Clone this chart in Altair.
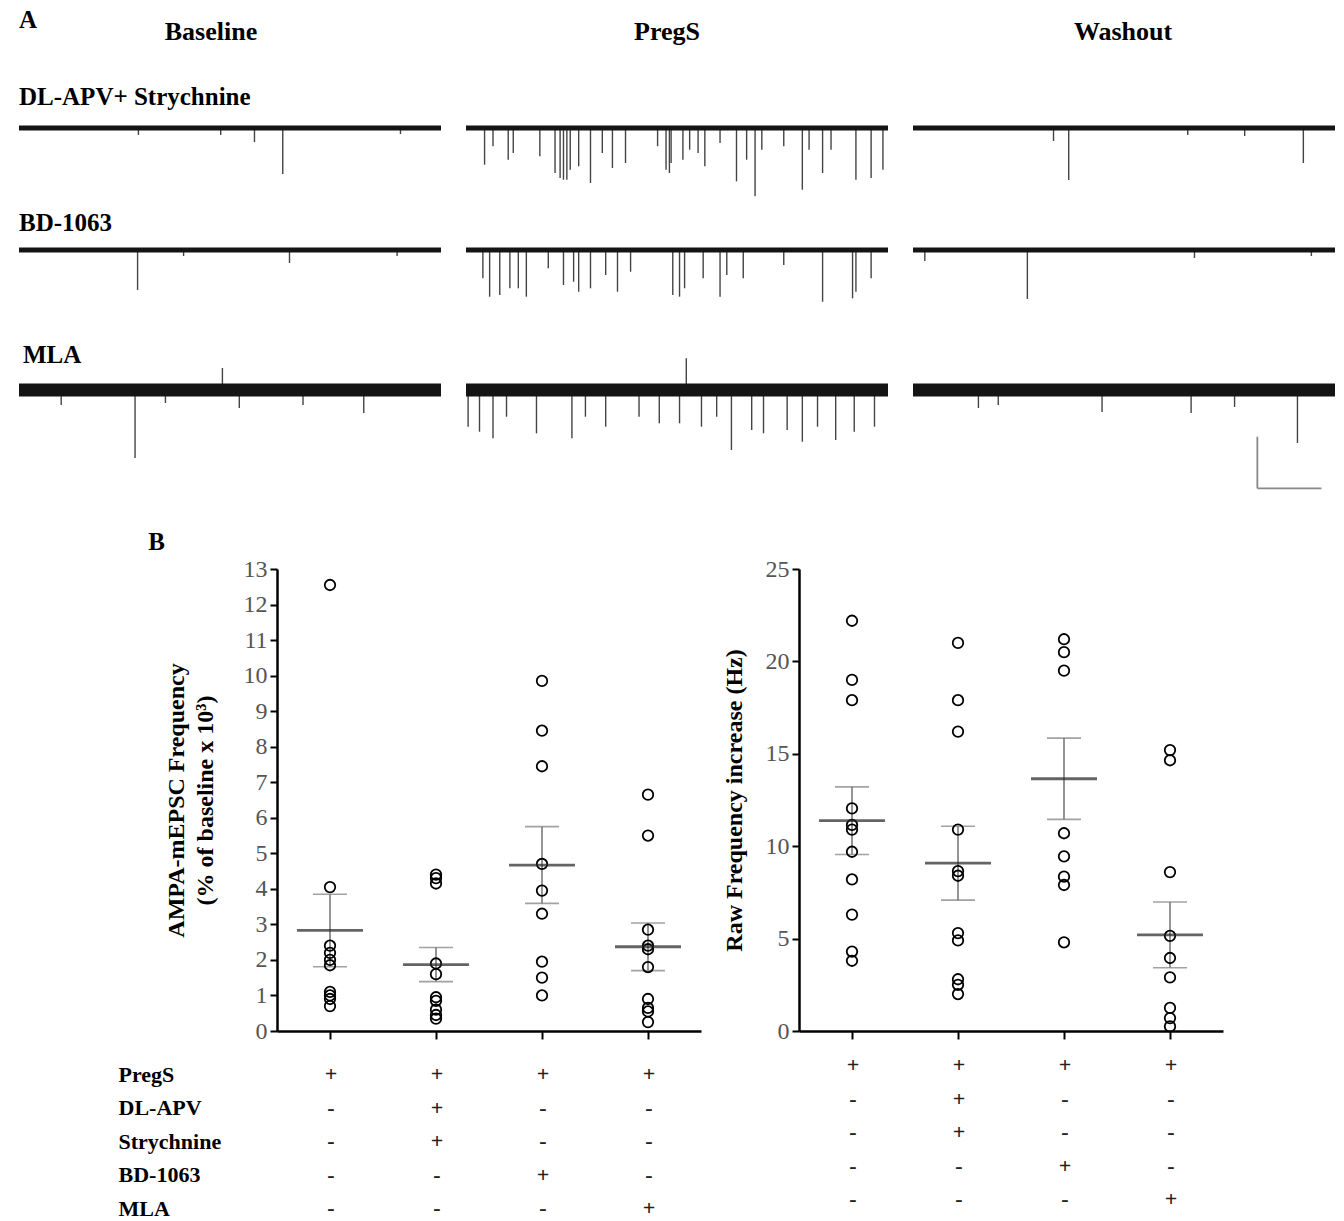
import altair as alt
import pandas as pd

SERIF = "Liberation Serif"

# ---------------- Panel A : representative traces ----------------
PHASES = ["Baseline", "PregS", "Washout"]
ROW_LABELS = ["DL-APV+ Strychnine", "BD-1063", "MLA"]
SWEEP = [0, 100]              # sweep extent (% of displayed time window)
NOISE_PP = [5, 5, 13]         # peak-to-peak noise band of each row's recordings

# event times (% of sweep) and amplitudes (inward = positive, outward = negative)
BASE_R1_T = [28.3, 47.8, 55.8, 62.5, 90.4]
BASE_R1_A = [7, 7, 14, 46, 6]
BASE_R2_T = [28.1, 39.0, 64.1, 89.6]
BASE_R2_A = [40, 6, 13, 6]
BASE_R3_T = [10.0, 27.5, 34.7, 48.2, 52.2, 67.3, 81.7]
BASE_R3_A = [15, 68, 13, -22, 18, 15, 23]

PREGS_R1_T = [4.4, 6.4, 10.0, 11.2, 17.5, 21.1, 22.3, 23.1, 23.9, 24.7, 26.7, 29.5,
              32.3, 34.7, 37.8, 45.4, 47.4, 48.2, 48.6, 51.4, 53.0, 55.0, 56.6, 60.2,
              64.1, 66.5, 68.5, 70.1, 75.3, 79.7, 81.3, 84.5, 86.5, 92.4, 96.0, 98.8]
PREGS_R1_A = [36.7, 18.3, 31.7, 25, 28.3, 45, 50, 51.7, 51.7, 41.7, 38.3, 55,
              25, 40, 35, 18.3, 41.7, 45, 35, 31.7, 21.7, 25, 38.3, 15,
              53.3, 31.7, 68.3, 21.7, 18.3, 61.7, 21.7, 45, 21.7, 51.7, 50, 41.7]
PREGS_R2_T = [4.0, 5.6, 8.0, 10.4, 12.4, 14.3, 19.5, 23.1, 25.5, 26.7, 29.5, 33.1, 35.9,
              39.0, 49.0, 50.6, 51.8, 56.2, 60.2, 61.8, 65.7, 75.3, 84.5, 91.6, 92.4, 96.0]
PREGS_R2_A = [28.3, 46.7, 45, 38.3, 38.3, 46.7, 18.3, 35, 31.7, 41.7, 38.3, 25, 41.7,
              21.7, 45, 46.7, 38.3, 28.3, 46.7, 25, 28.3, 15, 51.7, 48.3, 41.7, 28.3]
PREGS_R3_T = [0.5, 3.2, 6.4, 9.6, 16.7, 25.1, 28.3, 33.1, 41.0, 45.8, 50.6, 52.2, 55.8,
              59.4, 62.9, 67.7, 70.5, 76.1, 79.7, 83.3, 87.6, 92.0, 96.8]
PREGS_R3_A = [36.7, 41.7, 48.3, 26.7, 43.3, 48.3, 26.7, 36.7, 26.7, 33.3, 33.3, -31.7, 36.7,
              26.7, 60, 40, 43.3, 40, 51.7, 36.7, 50, 41.7, 36.7]

WASH_R1_T = [33.3, 36.9, 65.1, 78.6, 92.5]
WASH_R1_A = [13, 52, 7, 8, 35]
WASH_R2_T = [2.8, 27.1, 66.7, 94.4]
WASH_R2_A = [11, 49, 8, 6]
WASH_R3_T = [15.5, 20.2, 44.8, 65.9, 76.2, 91.1]
WASH_R3_A = [18, 15, 22, 23, 17, 53]

SCALEBAR_T = [81.6, 96.8]
SCALEBAR_A = [46.7, 98.3]

# ---------------- Panel B : summary data ----------------
GROUPS = ["PregS", "PregS + DL-APV + Strychnine", "PregS + BD-1063", "PregS + MLA"]

NORM_G1 = [12.55, 4.05, 2.4, 2.2, 2.0, 1.85, 1.1, 1.0, 0.9, 0.7]
NORM_G2 = [4.4, 4.3, 4.15, 1.9, 1.6, 0.95, 0.85, 0.6, 0.45, 0.35]
NORM_G3 = [9.85, 8.45, 7.45, 4.7, 3.95, 3.3, 1.95, 1.5, 1.0]
NORM_G4 = [6.65, 5.5, 2.85, 2.4, 2.3, 1.8, 0.9, 0.65, 0.55, 0.25]
NORM_MEAN = [2.83, 1.87, 4.67, 2.37]
NORM_SEM = [1.02, 0.48, 1.08, 0.67]

RAW_G1 = [22.2, 19.0, 17.9, 12.05, 11.15, 10.9, 9.7, 8.2, 6.3, 4.3, 3.8]
RAW_G2 = [21.0, 17.9, 16.2, 10.9, 8.65, 8.4, 5.3, 4.9, 2.8, 2.5, 2.0]
RAW_G3 = [21.2, 20.5, 19.5, 10.7, 9.45, 8.35, 7.9, 4.8]
RAW_G4 = [15.2, 14.65, 8.6, 5.15, 3.95, 2.9, 1.25, 0.7, 0.25]
RAW_MEAN = [11.38, 9.08, 13.65, 5.2]
RAW_SEM = [1.83, 2.0, 2.2, 1.78]

DRUGS = ["PregS", "DL-APV", "Strychnine", "BD-1063", "MLA"]
# treatment table: one column per group
TABLE_G1 = ["+", "-", "-", "-", "-"]
TABLE_G2 = ["+", "+", "+", "-", "-"]
TABLE_G3 = ["+", "-", "-", "+", "-"]
TABLE_G4 = ["+", "-", "-", "-", "+"]


# ---------------- builders ----------------
def trace(times, amps, ydom, noise, title, title_dx, title_offset, scalebar=False):
    xs = alt.Scale(domain=SWEEP, nice=False, zero=False)
    ys = alt.Scale(domain=ydom, nice=False, zero=False)
    ev = pd.DataFrame({"t": times, "zero": [0] * len(times), "tip": [-a for a in amps]})
    spikes = alt.Chart(ev).mark_rule(strokeWidth=1.4, color="#444").encode(
        x=alt.X("t:Q", scale=xs, axis=None),
        y=alt.Y("zero:Q", scale=ys, axis=None),
        y2="tip:Q",
    )
    band = alt.Chart(pd.DataFrame({"t0": [SWEEP[0]], "t1": [SWEEP[1]],
                                   "lo": [-noise / 2], "hi": [noise / 2]})).mark_rect(
        color="#141414"
    ).encode(
        x=alt.X("t0:Q", scale=xs, axis=None), x2="t1:Q",
        y=alt.Y("lo:Q", scale=ys, axis=None), y2="hi:Q",
    )
    layers = [spikes, band]
    if scalebar:
        sb = pd.DataFrame({"t0": [SCALEBAR_T[0]], "t1": [SCALEBAR_T[1]],
                           "top": [-SCALEBAR_A[0]], "bot": [-SCALEBAR_A[1]]})
        vert = alt.Chart(sb).mark_rule(strokeWidth=1.8, color="#888").encode(
            x=alt.X("t0:Q", scale=xs, axis=None),
            y=alt.Y("top:Q", scale=ys, axis=None), y2="bot:Q")
        hori = alt.Chart(sb).mark_rule(strokeWidth=1.8, color="#888").encode(
            x=alt.X("t0:Q", scale=xs, axis=None), x2="t1:Q",
            y=alt.Y("bot:Q", scale=ys, axis=None))
        layers += [vert, hori]
    return alt.layer(*layers).properties(
        width=422, height=ydom[1] - ydom[0],
        title=alt.TitleParams(title, anchor="start", font=SERIF, fontSize=25,
                              fontWeight="bold", color="black", offset=title_offset,
                              dx=title_dx),
    )


ROW_DOMAINS = [[-83, 20], [-93, 14], [-100, 33]]
ROW_DX = [0, 0, 4]
ROW_TITLE_OFFSET = [-2, 0, -11]
ROW_DATA = [
    [(BASE_R1_T, BASE_R1_A), (PREGS_R1_T, PREGS_R1_A), (WASH_R1_T, WASH_R1_A)],
    [(BASE_R2_T, BASE_R2_A), (PREGS_R2_T, PREGS_R2_A), (WASH_R2_T, WASH_R2_A)],
    [(BASE_R3_T, BASE_R3_A), (PREGS_R3_T, PREGS_R3_A), (WASH_R3_T, WASH_R3_A)],
]

rows = []
for r in range(3):
    charts = []
    for c in range(3):
        t, a = ROW_DATA[r][c]
        charts.append(trace(t, a, ROW_DOMAINS[r], NOISE_PP[r],
                            ROW_LABELS[r] if c == 0 else " ", ROW_DX[r], ROW_TITLE_OFFSET[r],
                            scalebar=(r == 2 and c == 2)))
    rows.append(alt.hconcat(*charts, spacing=25))

hdr_text = alt.Chart(pd.DataFrame({"phase": PHASES})).mark_text(
    font=SERIF, fontSize=26, fontWeight="bold", color="black", baseline="middle"
).encode(
    x=alt.X("phase:N", scale=alt.Scale(type="point", domain=PHASES, range=[192, 1104],
                                       padding=0), axis=None),
    y=alt.value(32), text="phase:N",
)
letter_a = alt.Chart(pd.DataFrame({"lab": ["A"]})).mark_text(
    font=SERIF, fontSize=25, fontWeight="bold", color="black", align="left", baseline="middle"
).encode(x=alt.value(0), y=alt.value(20), text="lab:N")
header = alt.layer(hdr_text, letter_a).properties(width=1316, height=85)

panel_a = alt.vconcat(header, *rows, spacing=0)


def scatter(groups_vals, means, sems, ymax, yvals, ytitle, title_pad):
    pts = pd.DataFrame([(g, v) for g, vs in zip(GROUPS, groups_vals) for v in vs],
                       columns=["group", "value"])
    st = pd.DataFrame({"group": GROUPS, "mean": means,
                       "lo": [m - s for m, s in zip(means, sems)],
                       "hi": [m + s for m, s in zip(means, sems)]})
    xs = alt.Scale(type="point", domain=GROUPS, padding=0.5)
    ys = alt.Scale(domain=[0, ymax], nice=False, zero=True)
    xax = alt.Axis(title=None, labels=False, ticks=True, tickSize=8, tickWidth=2,
                   tickColor="black", domainColor="black", domainWidth=2.5, grid=False)
    yax = alt.Axis(values=yvals, title=ytitle, grid=False, tickSize=7, tickWidth=2,
                   tickColor="black", domainColor="black", domainWidth=2.5,
                   labelFont=SERIF, labelFontSize=24, labelColor="#555", labelPadding=3,
                   labelOverlap=False,
                   titleFont=SERIF, titleFontSize=24, titleFontWeight="bold",
                   titleColor="black", titlePadding=title_pad, titleLineHeight=29)
    x = alt.X("group:N", scale=xs, axis=xax)
    err = alt.Chart(st).mark_rule(color="#7a7a7a", strokeWidth=1.6).encode(
        x=x, y=alt.Y("lo:Q", scale=ys, axis=yax), y2="hi:Q")
    cap_lo = alt.Chart(st).mark_tick(color="#7a7a7a", size=34, thickness=1.6).encode(
        x=x, y=alt.Y("lo:Q", scale=ys, axis=yax))
    cap_hi = alt.Chart(st).mark_tick(color="#7a7a7a", size=34, thickness=1.6).encode(
        x=x, y=alt.Y("hi:Q", scale=ys, axis=yax))
    dots = alt.Chart(pts).mark_point(shape="circle", filled=False, size=110,
                                     strokeWidth=1.8, color="black", opacity=1).encode(
        x=x, y=alt.Y("value:Q", scale=ys, axis=yax))
    mean = alt.Chart(st).mark_tick(color="#222", size=66, thickness=2.8).encode(
        x=x, y=alt.Y("mean:Q", scale=ys, axis=yax))
    return alt.layer(err, cap_lo, cap_hi, dots, mean).properties(width=424, height=462)


def table(show_labels, yrange, width):
    cols = [TABLE_G1, TABLE_G2, TABLE_G3, TABLE_G4]
    df = pd.DataFrame([(g, d, s) for g, col in zip(GROUPS, cols) for d, s in zip(DRUGS, col)],
                      columns=["group", "drug", "sign"])
    if show_labels:
        yax = alt.Axis(title=None, ticks=False, tickSize=0, domain=False, labelAlign="left",
                       labelPadding=160, labelFont=SERIF, labelFontSize=22,
                       labelFontWeight="bold", labelColor="black")
    else:
        yax = None
    return alt.Chart(df).mark_text(font=SERIF, fontSize=22, fontWeight="bold",
                                   color="#222").encode(
        x=alt.X("group:N", scale=alt.Scale(type="point", domain=GROUPS, padding=0.5,
                                           range=[0, 424]), axis=None),
        y=alt.Y("drug:N", scale=alt.Scale(type="point", domain=DRUGS, range=yrange, padding=0),
                axis=yax),
        text="sign:N",
    ).properties(width=width, height=150)


def spacer(w, h):
    return alt.Chart(pd.DataFrame({"v": [0.5]})).mark_point(opacity=0).encode(
        x=alt.X("v:Q", scale=alt.Scale(domain=[0, 1]), axis=None),
        y=alt.Y("v:Q", scale=alt.Scale(domain=[0, 1]), axis=None),
    ).properties(width=w, height=h)


scatter_row = alt.hconcat(
    spacer(124, 10),
    scatter([NORM_G1, NORM_G2, NORM_G3, NORM_G4], NORM_MEAN, NORM_SEM, 13, list(range(14)),
            ["AMPA-mEPSC Frequency", "(% of baseline x 10³)"], 26),
    scatter([RAW_G1, RAW_G2, RAW_G3, RAW_G4], RAW_MEAN, RAW_SEM, 25, [0, 5, 10, 15, 20, 25],
            "Raw Frequency increase (Hz)", 19),
    spacing=21,
)
table_row = alt.hconcat(
    spacer(4, 10),
    table(True, [16, 150], 428),
    table(False, [7, 141], 424),
    spacing=94,
)
panel_b = alt.vconcat(scatter_row, table_row, spacing=11).properties(
    title=alt.TitleParams("B", anchor="start", frame="bounds", font=SERIF, fontSize=25,
                          fontWeight="bold", color="black", dx=130, offset=2)
)

chart = alt.vconcat(panel_a, panel_b, spacing=40).properties(
    padding={"left": 18, "top": 0, "right": 5, "bottom": 0},
    background="white",
).configure_view(stroke=None)

chart.save("out.html", embed_options={"renderer": "svg", "actions": False})
